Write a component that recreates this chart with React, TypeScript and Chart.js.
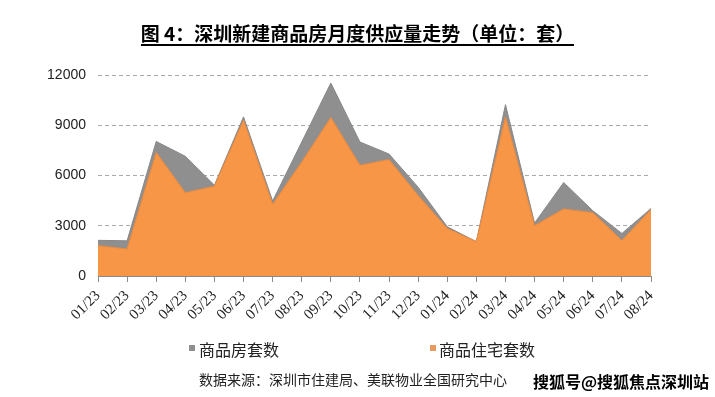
import React, { useEffect, useRef } from "react";
import { Chart, registerables } from "chart.js";

Chart.register(...registerables);

const categories = [
  "01/23", "02/23", "03/23", "04/23", "05/23", "06/23", "07/23", "08/23", "09/23", "10/23",
  "11/23", "12/23", "01/24", "02/24", "03/24", "04/24", "05/24", "06/24", "07/24", "08/24",
];
// 商品房套数
const totalUnits = [2130, 2100, 8030, 7150, 5420, 9500, 4480, 8000, 11520, 8000, 7280, 5300, 2940, 2050, 10230, 3160, 5580, 3900, 2540, 4030];
// 商品住宅套数
const residentialUnits = [1810, 1610, 7370, 4970, 5360, 9300, 4280, 6800, 9460, 6610, 6950, 4800, 2840, 2050, 9500, 3010, 4000, 3780, 2120, 3970];
const yMin = 0;
const yMax = 12000;
const yStep = 3000;

const seriesNames = ["商品房套数", "商品住宅套数"];
const seriesColors = ["#8f8f8f", "#F79646"];

const titleText = "图 4：深圳新建商品房月度供应量走势（单位：套）";
const sourceText = "数据来源：深圳市住建局、美联物业全国研究中心";
const markText = "搜狐号@搜狐焦点深圳站";

const CJK = "'Noto Sans CJK SC', 'Noto Sans', sans-serif";
const LAT = "'Liberation Sans', Arial, sans-serif";
const SERIF = "'Liberation Serif', 'Times New Roman', serif";

export default function App() {
  const ref = useRef<HTMLCanvasElement>(null);

  useEffect(() => {
    if (!ref.current) return;
    const chart = new Chart(ref.current, {
      type: "line",
      data: {
        labels: categories,
        datasets: [
          {
            label: seriesNames[0],
            data: totalUnits,
            fill: "origin",
            backgroundColor: seriesColors[0],
            borderColor: "#888888",
            borderWidth: 1,
            pointRadius: 0,
            tension: 0,
            order: 1,
          },
          {
            label: seriesNames[1],
            data: residentialUnits,
            fill: "origin",
            backgroundColor: seriesColors[1],
            borderColor: "#EC8A3E",
            borderWidth: 1,
            pointRadius: 0,
            tension: 0,
            order: 0,
          },
        ],
      },
      options: {
        responsive: false,
        animation: false,
        devicePixelRatio: 1,
        layout: { padding: { top: 75, right: 64, bottom: 0, left: 0 } },
        plugins: {
          legend: { display: false },
          tooltip: { enabled: false },
          title: { display: false },
        },
        scales: {
          x: {
            offset: false,
            grid: {
              display: true,
              drawOnChartArea: false,
              drawTicks: true,
              tickLength: 6,
              color: "#8a8a8a",
            },
            border: { display: true, color: "#8a8a8a" },
            ticks: {
              autoSkip: false,
              minRotation: 45,
              maxRotation: 45,
              padding: 5,
              color: "#222",
              font: { family: SERIF, size: 15 },
            },
            afterFit: (s: any) => {
              s.height = 121;
            },
          },
          y: {
            min: yMin,
            max: yMax,
            grid: { color: "#aaaaaa", drawTicks: false, lineWidth: 1 },
            border: { display: false, dash: [4, 3] },
            ticks: {
              stepSize: yStep,
              padding: 12,
              color: "#222",
              font: { family: LAT, size: 14 },
              callback: (v: any) => String(v),
            },
            afterFit: (s: any) => {
              s.width = 98;
            },
          },
        },
      },
    });
    return () => chart.destroy();
  }, []);

  return (
    <div style={{ position: "absolute", left: 0, top: 0, width: 715, height: 397, background: "#fff", overflow: "hidden" }}>
      <canvas ref={ref} width={715} height={397} style={{ position: "absolute", left: 0, top: 0, width: 715, height: 397 }} />
      <div style={{ position: "absolute", left: 0, top: 23, width: 715, textAlign: "center" }}>
        <span
          style={{
            fontFamily: CJK,
            fontWeight: 700,
            fontSize: 19,
            lineHeight: "20px",
            color: "#000",
            borderBottom: "2px solid #000",
            paddingBottom: 1,
            display: "inline-block",
          }}
        >
          {titleText}
        </span>
      </div>
      <div style={{ position: "absolute", left: 189, top: 345, width: 6, height: 6, background: seriesColors[0] }} />
      <div style={{ position: "absolute", left: 199, top: 340, fontFamily: CJK, fontSize: 16, lineHeight: "18px", color: "#222", whiteSpace: "nowrap" }}>
        {seriesNames[0]}
      </div>
      <div style={{ position: "absolute", left: 430, top: 345, width: 6, height: 6, background: "#E59C5E" }} />
      <div style={{ position: "absolute", left: 439, top: 340, fontFamily: CJK, fontSize: 16, lineHeight: "18px", color: "#222", whiteSpace: "nowrap" }}>
        {seriesNames[1]}
      </div>
      <div style={{ position: "absolute", left: 199, top: 371, fontFamily: CJK, fontSize: 14, lineHeight: "16px", color: "#222", whiteSpace: "nowrap" }}>
        {sourceText}
      </div>
      <div style={{ position: "absolute", left: 533, top: 372, fontFamily: CJK, fontWeight: 700, fontSize: 16, lineHeight: "18px", color: "#000", whiteSpace: "nowrap" }}>
        {markText}
      </div>
    </div>
  );
}
